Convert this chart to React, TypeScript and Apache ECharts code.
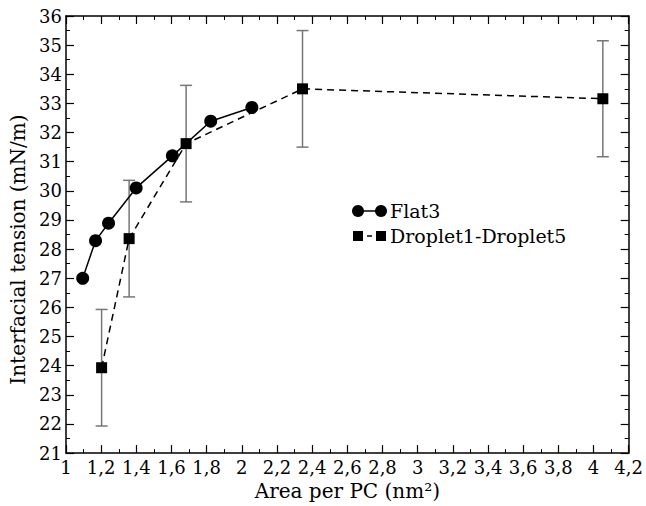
import React, { useEffect, useRef } from "react";
import * as echarts from "echarts";

const flatX = [1.095, 1.168, 1.242, 1.399, 1.605, 1.823, 2.057];
const flatY = [27.0, 28.29, 28.89, 30.1, 31.2, 32.39, 32.86];

const dropX = [1.2025, 1.359, 1.683, 2.345, 4.053];
const dropY = [23.93, 28.36, 31.62, 33.5, 33.16];
const dropErr = [2.0, 2.0, 2.0, 2.0, 1.99];

const xTitle = "Area per PC (nm²)";
const yTitle = "Interfacial tension (mN/m)";
const legendNames = ["Flat3", "Droplet1-Droplet5"];

const FONT = "DejaVu Serif";

export default function App() {
  const ref = useRef<HTMLDivElement>(null);
  useEffect(() => {
    if (!ref.current) return;
    const chart = echarts.init(ref.current, null, { renderer: "svg" });
    const axisCommon = {
      axisLine: { show: true, lineStyle: { color: "#000", width: 1.5 } },
      axisTick: { show: true, inside: true, length: 8, lineStyle: { color: "#000", width: 1.2 } },
      minorTick: { show: true, splitNumber: 2, length: 4, lineStyle: { color: "#000", width: 1 } },
      splitLine: { show: false },
    };
    const fmtX = (v: number) => String(Math.round(v * 10) / 10).replace(".", ",");
    chart.setOption({
      animation: false,
      backgroundColor: "#fff",
      textStyle: { fontFamily: FONT },
      grid: { left: 66, right: 16, top: 16, bottom: 51, containLabel: false },
      xAxis: [
        {
          type: "value",
          min: 1,
          max: 4.2,
          interval: 0.2,
          ...axisCommon,
          axisLabel: { formatter: fmtX, color: "#000", fontFamily: FONT, fontSize: 18, margin: 5 },
          name: xTitle,
          nameLocation: "middle",
          nameGap: 23,
          nameTextStyle: { color: "#000", fontFamily: FONT, fontSize: 20, verticalAlign: "top" },
        },
        {
          type: "value",
          position: "top",
          min: 1,
          max: 4.2,
          interval: 0.2,
          ...axisCommon,
          axisLabel: { show: false },
        },
      ],
      yAxis: [
        {
          type: "value",
          min: 21,
          max: 36,
          interval: 1,
          ...axisCommon,
          axisLabel: { color: "#000", fontFamily: FONT, fontSize: 18, margin: 4 },
          name: yTitle,
          nameLocation: "middle",
          nameGap: 37,
          nameTextStyle: { color: "#000", fontFamily: FONT, fontSize: 20, padding: [0, 30, 0, 0] },
        },
        {
          type: "value",
          position: "right",
          min: 21,
          max: 36,
          interval: 1,
          ...axisCommon,
          axisLabel: { show: false },
        },
      ],
      series: [
        {
          type: "custom",
          name: "err",
          renderItem: (params: any, api: any) => {
            const x = api.value(0);
            const y = api.value(1);
            const e = api.value(2);
            const top = api.coord([x, y + e]);
            const bot = api.coord([x, y - e]);
            const hw = 6;
            const style = { stroke: "#777", lineWidth: 1.5 };
            return {
              type: "group",
              children: [
                { type: "line", shape: { x1: top[0], y1: top[1], x2: bot[0], y2: bot[1] }, style },
                { type: "line", shape: { x1: top[0] - hw, y1: top[1], x2: top[0] + hw, y2: top[1] }, style },
                { type: "line", shape: { x1: bot[0] - hw, y1: bot[1], x2: bot[0] + hw, y2: bot[1] }, style },
              ],
            };
          },
          data: dropX.map((x, i) => [x, dropY[i], dropErr[i]]),
          z: 1,
        },
        {
          type: "line",
          name: legendNames[0],
          data: flatX.map((x, i) => [x, flatY[i]]),
          symbol: "circle",
          symbolSize: 13,
          itemStyle: { color: "#000" },
          lineStyle: { color: "#000", width: 1.5 },
          z: 3,
        },
        {
          type: "line",
          name: legendNames[1],
          data: dropX.map((x, i) => [x, dropY[i]]),
          symbol: "rect",
          symbolSize: 11,
          itemStyle: { color: "#000" },
          lineStyle: { color: "#000", width: 1.5, type: [7, 5] },
          z: 3,
        },
      ],
      graphic: [
        { type: "line", shape: { x1: 358, y1: 211, x2: 381, y2: 211 }, style: { stroke: "#000", lineWidth: 1.5 } },
        { type: "circle", shape: { cx: 358, cy: 211, r: 6 }, style: { fill: "#000" } },
        { type: "circle", shape: { cx: 381, cy: 211, r: 6 }, style: { fill: "#000" } },
        { type: "text", x: 390, y: 211, style: { text: legendNames[0], fontFamily: FONT, fontSize: 19, fill: "#000", verticalAlign: "middle" } },
        { type: "line", shape: { x1: 358, y1: 236, x2: 381, y2: 236 }, style: { stroke: "#000", lineWidth: 1.5, lineDash: [5, 4] } },
        { type: "rect", shape: { x: 353, y: 231, width: 10, height: 10 }, style: { fill: "#000" } },
        { type: "rect", shape: { x: 376, y: 231, width: 10, height: 10 }, style: { fill: "#000" } },
        { type: "text", x: 390, y: 236, style: { text: legendNames[1], fontFamily: FONT, fontSize: 19, fill: "#000", verticalAlign: "middle" } },
      ],
    });
    return () => chart.dispose();
  }, []);
  return <div ref={ref} style={{ position: "absolute", left: 0, top: 0, width: 646, height: 506 }} />;
}
